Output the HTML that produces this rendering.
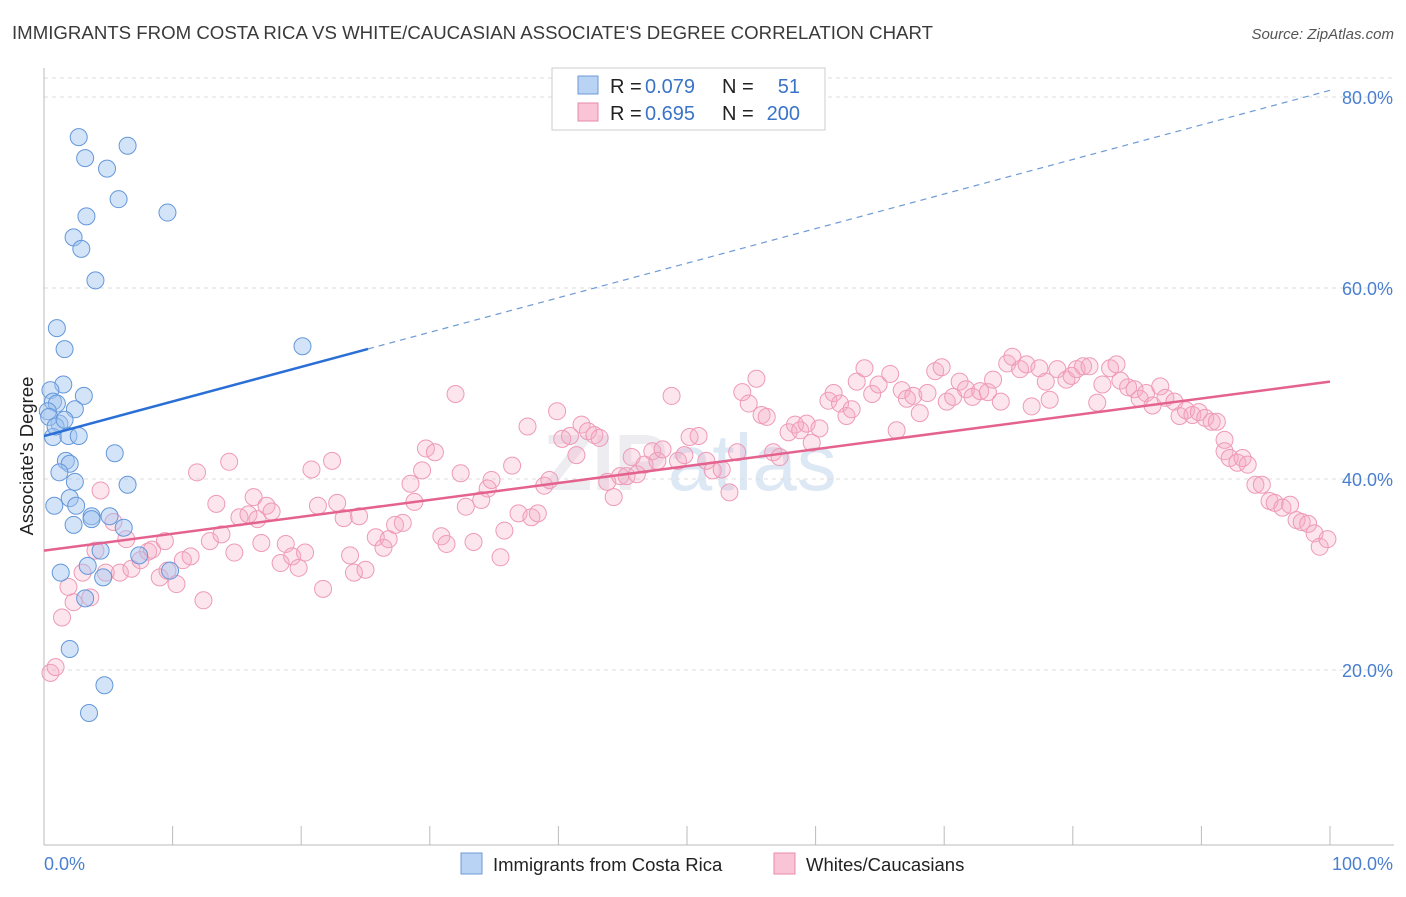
<!DOCTYPE html>
<html><head><meta charset="utf-8"><style>
body{margin:0;background:#fff;font-family:"Liberation Sans",sans-serif;}
svg text{font-family:"Liberation Sans",sans-serif;}
</style></head><body>
<svg id="chart" width="1406" height="892" xmlns="http://www.w3.org/2000/svg">
<text x="12" y="39" font-size="18" fill="#3a3a3a" textLength="921" lengthAdjust="spacingAndGlyphs">IMMIGRANTS FROM COSTA RICA VS WHITE/CAUCASIAN ASSOCIATE'S DEGREE CORRELATION CHART</text>
<text x="1394" y="39" font-size="15" fill="#555" font-style="italic" text-anchor="end">Source: ZipAtlas.com</text>
<text x="690" y="490" font-size="80" fill="#ececf1" text-anchor="middle" font-weight="bold">ZIP<tspan fill="#dde8f5" font-weight="normal">atlas</tspan></text>
<g id="grid"></g>
<g id="axes"></g>
<g id="pink"></g>
<g id="blue"></g>
<g id="lines"></g>
<text transform="translate(33,456) rotate(-90)" font-size="18.5" fill="#222" text-anchor="middle">Associate's Degree</text>
<g>
<rect x="552" y="68" width="273" height="62" fill="#fff" stroke="#ccc"/>
<rect x="578" y="76" width="20" height="18" fill="#b8d3f3" stroke="#6e9ad6"/>
<rect x="578" y="103" width="20" height="18" fill="#f9c4d6" stroke="#e88aa8"/>
<text x="610" y="93" font-size="20" fill="#222">R =</text>
<text x="645" y="93" font-size="20" fill="#3a74c9">0.079</text>
<text x="722" y="93" font-size="20" fill="#222">N =</text>
<text x="800" y="93" font-size="20" fill="#3a74c9" text-anchor="end">51</text>
<text x="610" y="120" font-size="20" fill="#222">R =</text>
<text x="645" y="120" font-size="20" fill="#3a74c9">0.695</text>
<text x="722" y="120" font-size="20" fill="#222">N =</text>
<text x="800" y="120" font-size="20" fill="#3a74c9" text-anchor="end">200</text>
</g>
<g>
<rect x="461" y="853" width="21" height="21" fill="#b8d3f3" stroke="#6e9ad6"/>
<text x="493" y="871" font-size="18.5" fill="#222">Immigrants from Costa Rica</text>
<rect x="774" y="853" width="21" height="21" fill="#f9c4d6" stroke="#e88aa8"/>
<text x="806" y="871" font-size="18.5" fill="#222">Whites/Caucasians</text>
</g>
</svg>
<script>
const yTicks=[20,40,60,80];
const yTickLabels=["20.0%","40.0%","60.0%","80.0%"];
const xTicks=[0,10,20,30,40,50,60,70,80,90,100];
const blueX=[2.7,3.2,6.5,4.9,5.8,3.3,9.6,2.3,2.9,4.0,1.0,1.6,20.1,1.5,0.5,3.1,0.7,1.0,0.3,2.4,1.2,0.7,1.9,2.7,5.5,1.7,2.0,1.2,2.4,6.5,2.0,0.8,2.5,3.7,3.7,5.1,2.3,6.2,4.4,7.4,3.4,1.3,4.6,9.8,3.2,2.0,4.7,3.5,0.4,0.9,1.6];
const blueY=[75.8,73.6,74.9,72.5,69.3,67.5,67.9,65.3,64.1,60.8,55.8,53.6,53.9,49.9,49.3,48.7,48.1,47.9,47.1,47.3,45.8,44.4,44.5,44.5,42.7,41.9,41.6,40.7,39.7,39.4,38.0,37.2,37.2,36.1,35.8,36.1,35.2,34.9,32.5,32.0,30.9,30.2,29.7,30.4,27.5,22.2,18.4,15.5,46.5,45.5,46.2];
const pinkX=[0.5,0.9,1.4,1.9,2.3,3.0,3.6,4.0,4.4,4.8,5.4,5.9,6.4,6.8,7.5,8.1,8.4,9.0,9.4,9.6,10.3,10.8,11.4,11.9,12.4,12.9,13.4,13.8,14.4,14.8,15.2,15.9,16.3,16.6,16.9,17.3,17.7,18.4,18.8,19.3,19.8,20.3,20.8,21.3,21.7,22.4,22.8,23.3,23.8,24.1,24.5,25.0,25.8,26.4,26.8,27.3,27.9,28.5,28.8,29.4,29.7,30.4,30.9,31.3,32.0,32.4,32.8,33.4,34.0,34.5,34.8,35.5,35.8,36.4,36.9,37.6,37.9,38.4,38.9,39.3,39.9,40.3,40.9,41.4,41.8,42.3,42.8,43.2,43.8,44.3,44.8,45.3,45.7,46.1,46.7,47.3,47.7,48.1,48.8,49.3,49.8,50.2,50.9,51.5,52.0,52.7,53.3,53.9,54.3,54.8,55.4,55.8,56.2,56.7,57.2,57.9,58.4,58.8,59.3,59.7,60.3,61.0,61.4,61.9,62.4,62.8,63.2,63.8,64.4,64.9,65.8,66.3,66.7,67.1,67.6,68.1,68.7,69.3,69.8,70.2,70.7,71.2,71.7,72.2,72.8,73.4,73.8,74.4,74.9,75.3,75.9,76.4,76.8,77.4,77.9,78.2,78.8,79.5,79.9,80.3,80.8,81.3,81.9,82.3,82.9,83.4,83.7,84.3,84.8,85.2,85.7,86.2,86.8,87.2,87.9,88.3,88.8,89.3,89.8,90.3,90.8,91.2,91.8,91.8,92.2,92.8,93.2,93.6,94.2,94.7,95.3,95.7,96.3,96.9,97.4,97.8,98.3,98.8,99.2,99.8];
const pinkY=[19.7,20.3,25.5,28.7,27.1,30.2,27.6,32.5,38.8,30.2,35.5,30.2,33.7,30.6,31.5,32.4,32.6,29.7,33.5,30.4,29.0,31.5,31.9,40.7,27.3,33.5,37.4,34.2,41.8,32.3,36.0,36.3,38.1,35.8,33.3,37.2,36.6,31.2,33.2,31.9,30.7,32.3,41.0,37.2,28.5,41.9,37.5,35.9,32.0,30.2,36.1,30.5,33.9,32.8,33.7,35.2,35.4,39.5,37.6,40.9,43.2,42.8,34.0,33.2,48.9,40.6,37.1,33.4,37.8,39.0,39.9,31.8,34.6,41.4,36.4,45.5,36.0,36.4,39.3,39.9,47.1,44.2,44.5,42.5,45.7,45.0,44.6,44.3,39.7,38.1,40.3,40.3,42.3,40.5,41.5,42.9,41.9,43.1,48.7,41.9,42.5,44.4,44.5,41.9,40.9,41.0,38.6,42.8,49.1,47.9,50.5,46.7,46.5,42.8,42.3,44.9,45.7,45.1,45.8,43.8,45.3,48.2,49.0,47.9,46.6,47.3,50.2,51.6,48.9,49.9,51.0,45.1,49.3,48.4,48.7,46.9,49.0,51.3,51.7,48.1,48.6,50.2,49.4,48.6,49.2,49.1,50.4,48.1,52.1,52.8,51.5,52.0,47.6,51.6,50.2,48.3,51.5,50.4,50.8,51.5,51.8,51.8,48.0,49.9,51.6,52.0,50.3,49.6,49.4,48.4,49.0,47.7,49.7,48.5,48.1,46.6,47.2,46.7,47.0,46.4,46.0,46.0,44.1,42.9,42.2,41.7,42.2,41.5,39.4,39.4,37.7,37.5,37.0,37.3,35.7,35.5,35.3,34.3,32.9,33.7];
const blueFit=[44.5,80.7];
const pinkFit=[32.5,50.2];
const blueSolidEnd=25.2;

const NS="http://www.w3.org/2000/svg";
const X0=44,X1=1330,Y0=861,YS=9.55;
function sx(v){return X0+(X1-X0)*v/100;}
function sy(v){return Y0-v*YS;}
function mk(tag,attrs,parent){const e=document.createElementNS(NS,tag);for(const k in attrs)e.setAttribute(k,attrs[k]);parent.appendChild(e);return e;}
const grid=document.getElementById('grid'),axes=document.getElementById('axes');
let tl=mk('line',{x1:44,x2:1394,y1:78,y2:78,stroke:'#ddd','stroke-dasharray':'4,4'},grid);


yTicks.forEach((t,i)=>{
  const l=mk('line',{x1:44,x2:1394,y1:sy(t),y2:sy(t),stroke:'#ddd','stroke-dasharray':'4,4'},grid);
  
  
  const tx=mk('text',{x:1393,y:sy(t)+7,'font-size':18,fill:'#4a7fcf','text-anchor':'end'},axes);
  tx.textContent=yTickLabels[i];
  
  
});
let ya=mk('line',{x1:44,x2:44,y1:68,y2:845,stroke:'#bbb'},axes);


let xa=mk('line',{x1:44,x2:1394,y1:845,y2:845,stroke:'#bbb'},axes);


xTicks.forEach(t=>{
  const l=mk('line',{x1:sx(t),x2:sx(t),y1:826,y2:845,stroke:'#bbb'},axes);
  
  
});
let xl0=mk('text',{x:44,y:870,'font-size':18,fill:'#4a7fcf'},axes);xl0.textContent='0.0%';


let xl1=mk('text',{x:1393,y:870,'font-size':18,fill:'#4a7fcf','text-anchor':'end'},axes);xl1.textContent='100.0%';


const pg=document.getElementById('pink');
pinkX.forEach((x,i)=>{
  const c=mk('circle',{cx:sx(x),cy:sy(pinkY[i]),r:8.5,fill:'rgba(246,170,196,0.3)',stroke:'#ee9ab7','stroke-width':1},pg);
  
  
});
const bg=document.getElementById('blue');
blueX.forEach((x,i)=>{
  const c=mk('circle',{cx:sx(x),cy:sy(blueY[i]),r:8.5,fill:'rgba(160,196,240,0.45)',stroke:'#6497da','stroke-width':1},bg);
  
  
});
const lg=document.getElementById('lines');
function fy(f,x){return f[0]+(f[1]-f[0])*x/100;}
let b1=mk('line',{x1:sx(0),y1:sy(fy(blueFit,0)),x2:sx(blueSolidEnd),y2:sy(fy(blueFit,blueSolidEnd)),stroke:'#2a6fd6','stroke-width':2.5},lg);


let b2=mk('line',{x1:sx(blueSolidEnd),y1:sy(fy(blueFit,blueSolidEnd)),x2:sx(100),y2:sy(fy(blueFit,100)),stroke:'#6e9ad6','stroke-width':1.2,'stroke-dasharray':'6,5'},lg);


let p1=mk('line',{x1:sx(0),y1:sy(fy(pinkFit,0)),x2:sx(100),y2:sy(fy(pinkFit,100)),stroke:'#e4628e','stroke-width':2.5},lg);


</script>
</body></html>
